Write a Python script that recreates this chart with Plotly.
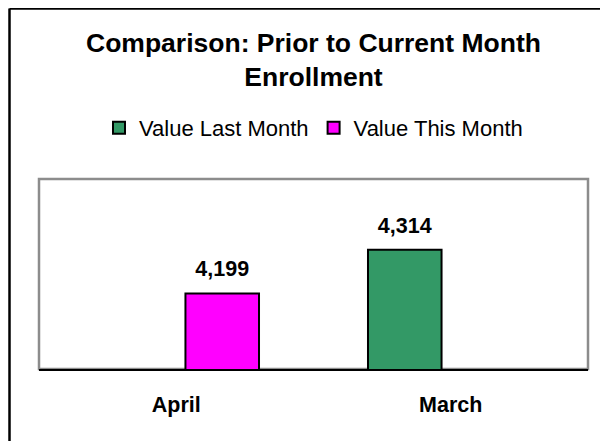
import plotly.graph_objects as go

categories = ["April", "March"]
last_month = [None, 4314]
this_month = [4199, None]
series_names = ["Value Last Month", "Value This Month"]
colors = ["#339966", "#FF00FF"]
title_text = "Comparison: Prior to Current Month<br>Enrollment"

OFF = 8  # page body margin
W, H = 608 - OFF, 441 - OFF
# plot area in page pixels: x 39..588, y 179..369
L, R, T, B = 39 - OFF, W - (588 - OFF), 179 - OFF, H - (369 - OFF)
pw, ph = W - L - R, H - T - B

def px_x(px):
    return (px - OFF - L) / pw

def px_y(py):
    return (H - B - (py - OFF)) / ph

FONT = "Liberation Sans, Arial, sans-serif"

fig = go.Figure()
for name, vals, col in zip(series_names, [last_month, this_month], colors):
    fig.add_trace(go.Bar(
        x=categories, y=vals, name=name, offsetgroup=name,
        marker=dict(color=col, line=dict(color="black", width=2)),
        hoverinfo="skip",
    ))
for name, vals in zip(series_names, [last_month, this_month]):
    fig.add_trace(go.Scatter(
        x=categories, y=vals, name=name, offsetgroup=name, showlegend=False,
        mode="markers+text", marker=dict(size=17, opacity=0),
        texttemplate="<b>%{y:,}</b>", textposition="top center",
        textfont=dict(family=FONT, size=21.5, color="black"),
        cliponaxis=False,
    ))

fig.update_layout(
    width=W, height=H,
    margin=dict(l=L, r=R, t=T, b=B, autoexpand=False),
    paper_bgcolor="white", plot_bgcolor="white",
    barmode="group", bargap=0.33, bargroupgap=0.2,
    scattermode="group", scattergap=0.33,
    font=dict(family=FONT, color="black"),
    title=dict(text="<b>" + title_text + "</b>", x=0.5, xref="paper", xanchor="center",
               y=1 - 44 / H, yref="container", yanchor="top",
               font=dict(family=FONT, size=26.5, color="black")),
    legend=dict(orientation="h", x=0.5, xanchor="center", y=px_y(128), yanchor="middle",
                font=dict(family=FONT, size=22, color="black"), bgcolor="rgba(0,0,0,0)"),
    showlegend=True,
    xaxis=dict(showline=True, linecolor="black", linewidth=2, showgrid=False,
               ticks="", ticklabelstandoff=15,
               tickfont=dict(family=FONT, size=21.5, color="black"),
               tickprefix="<b>", ticksuffix="</b>"),
    yaxis=dict(range=[4000, 4500], visible=False, showgrid=False),
    shapes=[
        dict(type="rect", xref="paper", yref="paper", x0=0, x1=1, y0=0, y1=1,
             line=dict(color="#8c8c8c", width=2.5), layer="below"),
        dict(type="line", xref="paper", yref="paper", x0=px_x(9.5), x1=px_x(9.5),
             y0=px_y(460), y1=px_y(8.5), line=dict(color="black", width=2.5), layer="above"),
        dict(type="line", xref="paper", yref="paper", x0=px_x(9.5), x1=px_x(630),
             y0=px_y(8.5), y1=px_y(8.5), line=dict(color="black", width=2.5), layer="above"),
    ],
)

fig.write_html("out.html")
